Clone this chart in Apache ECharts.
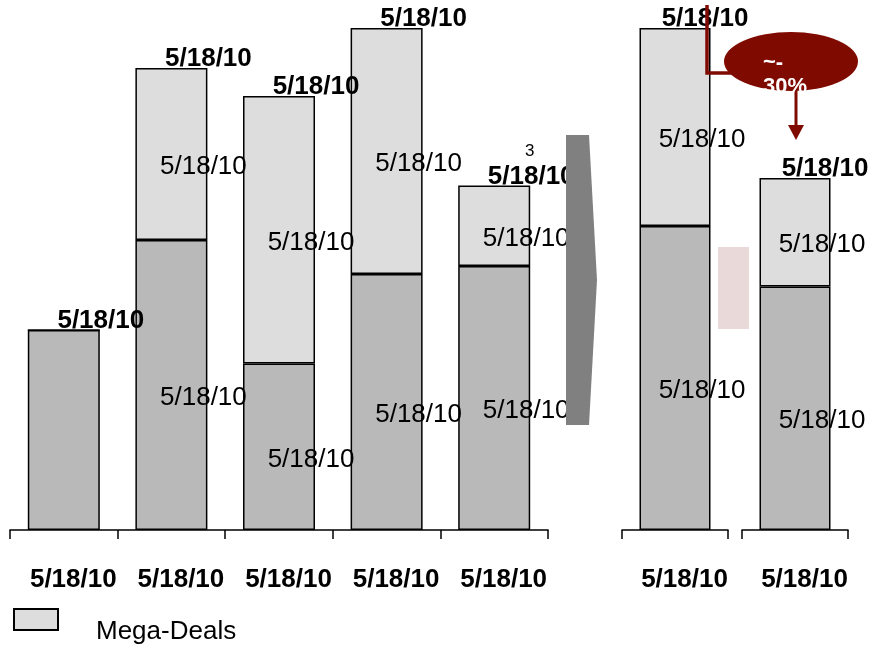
<!DOCTYPE html>
<html>
<head>
<meta charset="utf-8">
<title>Deal volume</title>
<script src="https://cdn.jsdelivr.net/npm/echarts@6/dist/echarts.min.js"></script>
<style>
  html, body { margin: 0; padding: 0; background: #fff; }
  #chart { width: 873px; height: 646px; }
</style>
</head>
<body>
<div id="chart"></div>
<script>
// Category (period) labels under each bar
const categories = ['5/18/10', '5/18/10', '5/18/10', '5/18/10', '5/18/10', '5/18/10', '5/18/10'];
// Base deal volume (lower, darker segment)
const baseDeals = [40, 58, 33.3, 51.2, 52.8, 60.8, 48.7];
// Mega-deal volume (upper, lighter segment)
const megaDeals = [0, 34.4, 53.5, 49.2, 16.1, 39.6, 21.7];
// Text printed inside each segment and above each stack
const baseLabels = ['', '5/18/10', '5/18/10', '5/18/10', '5/18/10', '5/18/10', '5/18/10'];
const megaLabels = ['', '5/18/10', '5/18/10', '5/18/10', '5/18/10', '5/18/10', '5/18/10'];
const totalLabels = ['5/18/10', '5/18/10', '5/18/10', '5/18/10', '5/18/10', '5/18/10', '5/18/10'];
// Callout on the right-hand pair
const changeText = ['~-', '30%'];

const FONT = '"Liberation Sans", Arial, sans-serif';
const DARK = '#B9B9B9';
const LIGHT = '#DDDDDD';
const RED = '#7F0A00';

// bars split into three panels: historic (0-4), then two stand-alone bars
const panels = [[0, 1, 2, 3, 4], [5], [6]];
const gridBoxes = [
  { left: 10, width: 538 },
  { left: 622, width: 106 },
  { left: 742, width: 106 }
];

const grid = gridBoxes.map(b => ({ left: b.left, width: b.width, top: 0, bottom: 116 }));

const xAxis = panels.map((idx, g) => ({
  type: 'category',
  gridIndex: g,
  data: idx.map(i => categories[i]),
  axisLine: { lineStyle: { color: '#000', width: 1.5 } },
  axisTick: { show: true, length: 9, lineStyle: { color: '#000', width: 1.5 } },
  axisLabel: {
    interval: 0, margin: 37, padding: [0, 0, 0, 19],
    fontFamily: FONT, fontSize: 26, fontWeight: 'bold', color: '#000', lineHeight: 26
  }
}));

const yAxis = panels.map((idx, g) => ({
  type: 'value', gridIndex: g, min: 0, max: 106, show: false
}));

const series = [];
panels.forEach((idx, g) => {
  const left = g === 0;
  const inOff = left ? [32, 13] : [27, 13];
  const topOff = left ? [37, -9] : [30, -9];
  series.push({
    name: 'Base',
    type: 'bar', stack: 'deals' + g, xAxisIndex: g, yAxisIndex: g,
    barWidth: left ? 72 : 71,
    data: idx.map(i => baseDeals[i]),
    itemStyle: { color: DARK, borderColor: '#000', borderWidth: 1.5 },
    label: {
      show: true, position: 'inside', offset: inOff,
      fontFamily: FONT, fontSize: 26, color: '#000', lineHeight: 26,
      formatter: p => baseLabels[idx[p.dataIndex]]
    },
    z: 2
  });
  series.push({
    name: 'Mega-Deals',
    type: 'bar', stack: 'deals' + g, xAxisIndex: g, yAxisIndex: g,
    barWidth: left ? 72 : 71,
    data: idx.map(i => megaDeals[i]),
    itemStyle: { color: LIGHT, borderColor: '#000', borderWidth: 1.5 },
    label: {
      show: true, position: 'inside', offset: inOff,
      fontFamily: FONT, fontSize: 26, color: '#000', lineHeight: 26,
      formatter: p => megaLabels[idx[p.dataIndex]]
    },
    markPoint: {
      symbol: 'circle', symbolSize: 0,
      label: {
        show: true, position: 'inside', offset: topOff,
        fontFamily: FONT, fontSize: 26, fontWeight: 'bold', color: '#000', lineHeight: 26,
        formatter: p => p.name
      },
      data: idx.map((i, k) => ({
        name: totalLabels[i],
        coord: [k, baseDeals[i] + megaDeals[i]]
      }))
    },
    z: 2
  });
});

const graphic = [
  // transition chevron between the two panels
  {
    type: 'polygon', z: 100,
    shape: { points: [[566, 135], [589, 135], [597, 280], [589, 425], [566, 425]] },
    style: { fill: '#808080' }
  },
  // pale marker beside the first stand-alone bar
  {
    type: 'rect', z: 100,
    shape: { x: 718, y: 247, width: 31, height: 82 },
    style: { fill: '#E9DAD9' }
  },
  // footnote marker
  {
    type: 'text', z: 100, x: 525, y: 143,
    style: { text: '3', fontFamily: FONT, fontSize: 17, fill: '#000' }
  },
  // connector from the taller bar into the callout
  {
    type: 'polyline', z: 100,
    shape: { points: [[707, 5], [707, 73], [732, 73]] },
    style: { stroke: RED, lineWidth: 3.5, fill: null }
  },
  // callout bubble
  {
    type: 'circle', z: 101, x: 791, y: 61.5, scaleY: 29.5 / 67,
    shape: { cx: 0, cy: 0, r: 67 },
    style: { fill: RED }
  },
  {
    type: 'text', z: 102, x: 763, y: 51,
    style: {
      text: changeText.join('\n'), fontFamily: FONT, fontSize: 22, fontWeight: 'bold',
      fill: '#fff', lineHeight: 24
    }
  },
  // downward arrow toward the smaller bar
  {
    type: 'line', z: 100,
    shape: { x1: 796, y1: 90, x2: 796, y2: 127 },
    style: { stroke: RED, lineWidth: 3 }
  },
  {
    type: 'polygon', z: 100,
    shape: { points: [[788, 125], [804, 125], [796, 140]] },
    style: { fill: RED }
  }
];

const chart = echarts.init(document.getElementById('chart'), null, { renderer: 'canvas' });
chart.setOption({
  animation: false,
  backgroundColor: '#fff',
  grid, xAxis, yAxis, series, graphic,
  legend: {
    data: ['Mega-Deals'],
    left: 13, top: 608, padding: 0,
    icon: 'rect', itemWidth: 44, itemHeight: 21,
    selectedMode: false,
    formatter: name => '{n|' + name + '}',
    textStyle: {
      fontFamily: FONT, fontSize: 26, color: '#000',
      padding: [0, 0, 0, 33],
      rich: {
        n: { fontFamily: FONT, fontSize: 26, color: '#000', padding: [25, 0, 0, 0] }
      }
    }
  }
});
</script>
</body>
</html>
